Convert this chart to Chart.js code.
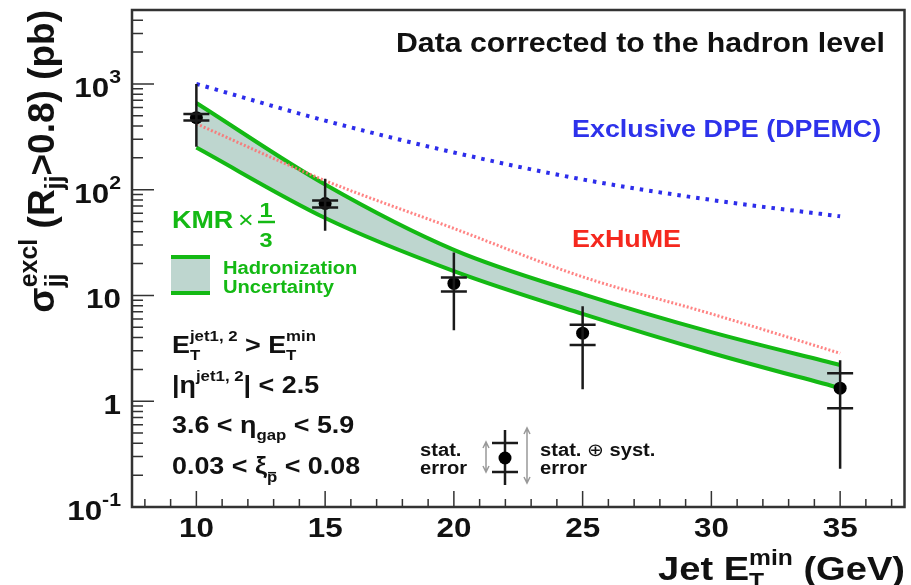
<!DOCTYPE html>
<html>
<head>
<meta charset="utf-8">
<script src="https://cdn.jsdelivr.net/npm/chart.js@4.4.0/dist/chart.umd.min.js"></script>
<style>
  html, body { margin: 0; padding: 0; background: #fff; }
</style>
</head>
<body>
<canvas id="chart" width="911" height="585"></canvas>
<script>
// x positions of the model curves (Jet E_T^min, GeV)
const curveEt = [10, 15, 20, 25, 30, 35];
// model predictions (pb)
const dpemc  = [1000, 450, 225, 125, 80, 56];
const exhume = [420, 122, 43, 15, 6.7, 2.84];
const kmrUp  = [660, 112, 27, 10.3, 4.5, 2.2];
const kmrLow = [250, 54, 17, 6.7, 2.86, 1.33];

// measured points
const dataEt    = [10, 15, 20, 25, 35];
const dataSigma = [480, 74, 13, 4.4, 1.33];
const statLow   = [450, 68, 10.9, 3.4, 0.86];
const statHigh  = [520, 79, 14.8, 5.3, 1.84];
const totLow    = [255, 41, 4.7, 1.3, 0.23];
const totHigh   = [1000, 127, 25.5, 7.9, 2.44];

// axis ticks
const xTicks = [10, 15, 20, 25, 30, 35];
const yTicks = [0.1, 1, 10, 100, 1000];
const yTickText = [['10', '-1'], ['1', ''], ['10', ''], ['10', '2'], ['10', '3']];

const FONT = '"Liberation Sans", Arial, Helvetica, sans-serif';
const SX = 1.12;   // text in the picture is a bit wide
const GREEN = 'rgb(20,185,20)';

const pts = (xs, ys) => xs.map((v, i) => ({ x: v, y: ys[i] }));

// draws text made of parts: [text, size, dy, flag]
// flag 'stack' = do not advance (sub under sup), 'bar' = overline, 'normal' = not bold
function rich(ctx, parts, x, y, align, color, rotated) {
  const fontOf = p => (p[3] === 'normal' ? '' : 'bold ') + p[1] + 'px ' + FONT;
  const meas = parts.map(p => { ctx.font = fontOf(p); return ctx.measureText(p[0]).width; });
  let total = 0, held = 0;
  parts.forEach((p, i) => {
    if (p[3] === 'stack') { held = meas[i]; return; }
    total += Math.max(held, meas[i]); held = 0;
  });
  ctx.save();
  ctx.translate(x, y);
  if (rotated) ctx.rotate(-Math.PI / 2); else ctx.scale(SX, 1);
  ctx.fillStyle = color;
  ctx.strokeStyle = color;
  ctx.textAlign = 'left';
  ctx.textBaseline = 'alphabetic';
  let cx = align === 'right' ? -total : align === 'center' ? -total / 2 : 0;
  held = 0;
  parts.forEach((p, i) => {
    ctx.font = fontOf(p);
    ctx.fillText(p[0], cx, p[2] || 0);
    if (p[3] === 'bar') {
      ctx.lineWidth = 1.5;
      ctx.beginPath();
      ctx.moveTo(cx + 1, (p[2] || 0) - p[1] * 0.62);
      ctx.lineTo(cx + meas[i] - 1, (p[2] || 0) - p[1] * 0.62);
      ctx.stroke();
    }
    if (p[3] === 'stack') { held = meas[i]; return; }
    cx += Math.max(held, meas[i]); held = 0;
  });
  ctx.restore();
}

function arrow(ctx, x, y1, y2) {
  ctx.beginPath();
  ctx.moveTo(x, y1); ctx.lineTo(x, y2);
  ctx.moveTo(x - 3, y1 + 6); ctx.lineTo(x, y1); ctx.lineTo(x + 3, y1 + 6);
  ctx.moveTo(x - 3, y2 - 6); ctx.lineTo(x, y2); ctx.lineTo(x + 3, y2 - 6);
  ctx.stroke();
}

const decorations = {
  id: 'decorations',
  afterDatasetsDraw(chart) {
    const { ctx, scales: { x, y } } = chart;
    // error bars: full line = stat+syst, caps = stat
    ctx.save();
    ctx.strokeStyle = '#1a1a1a';
    ctx.lineWidth = 2.5;
    dataEt.forEach((e, i) => {
      const px = x.getPixelForValue(e);
      ctx.beginPath();
      ctx.moveTo(px, y.getPixelForValue(totHigh[i]));
      ctx.lineTo(px, y.getPixelForValue(totLow[i]));
      [statLow[i], statHigh[i]].forEach(v => {
        const py = y.getPixelForValue(v);
        ctx.moveTo(px - 13, py);
        ctx.lineTo(px + 13, py);
      });
      ctx.stroke();
    });
    ctx.restore();
  },
  afterDraw(chart) {
    const { ctx, chartArea: a, scales: { x, y } } = chart;
    ctx.save();

    // frame
    ctx.strokeStyle = '#333';
    ctx.lineWidth = 2.5;
    ctx.strokeRect(a.left, a.top, a.right - a.left, a.bottom - a.top);

    // y ticks (inside, left)
    ctx.lineWidth = 1.5;
    ctx.beginPath();
    for (let k = -1; k <= 3; k++) {
      for (let m = 1; m <= 9; m++) {
        const v = m * Math.pow(10, k);
        if (v < 0.1 || v > 5000) continue;
        const py = y.getPixelForValue(v);
        ctx.moveTo(a.left, py);
        ctx.lineTo(a.left + (m === 1 ? 22 : 11), py);
      }
    }
    // x ticks (inside, bottom)
    for (let v = 8; v <= 37; v++) {
      const px = x.getPixelForValue(v);
      ctx.moveTo(px, a.bottom);
      ctx.lineTo(px, a.bottom - (v % 5 === 0 ? 16 : 8));
    }
    ctx.stroke();

    // tick labels
    xTicks.forEach(v => rich(ctx, [[String(v), 28, 0]], x.getPixelForValue(v), 537, 'center', '#111'));
    yTicks.forEach((v, i) => {
      const py = y.getPixelForValue(v);
      const parts = [[yTickText[i][0], 28, 0]];
      if (yTickText[i][1]) parts.push([yTickText[i][1], 19, -14]);
      rich(ctx, parts, 121, py + 13, 'right', '#111');
    });

    // axis titles
    rich(ctx, [['Jet E', 34, 0], ['T', 22, 8, 'stack'], ['min', 22, -15], [' (GeV)', 34, 0]],
      905, 580, 'right', '#111');
    rich(ctx, [['\u03c3', 37, 0], ['jj', 25, 9, 'stack'], ['excl', 25, -17], [' (R', 37, 0],
      ['jj', 25, 9], ['>0.8) (pb)', 37, 0]], 54, 10, 'right', '#111', true);

    // labels on the plot
    rich(ctx, [['Data corrected to the hadron level', 27, 0]], 885, 52, 'right', '#111');
    rich(ctx, [['Exclusive DPE (DPEMC)', 24, 0]], 572, 137, 'left', 'rgb(45,50,235)');
    rich(ctx, [['ExHuME', 24, 0]], 572, 247, 'left', 'rgb(245,40,30)');

    // KMR x 1/3
    rich(ctx, [['KMR', 24, 0]], 172, 228, 'left', GREEN);
    rich(ctx, [['\u00d7', 24, 0, 'normal']], 238, 228, 'left', GREEN);
    rich(ctx, [['1', 21, 0]], 266, 217, 'center', GREEN);
    rich(ctx, [['3', 21, 0]], 266, 247, 'center', GREEN);
    ctx.strokeStyle = GREEN;
    ctx.lineWidth = 2.5;
    ctx.beginPath();
    ctx.moveTo(258, 222); ctx.lineTo(275, 222);
    ctx.stroke();

    // band legend
    ctx.fillStyle = 'rgb(190,214,207)';
    ctx.fillRect(171, 257, 39, 36);
    ctx.lineWidth = 4;
    ctx.beginPath();
    ctx.moveTo(171, 257); ctx.lineTo(210, 257);
    ctx.moveTo(171, 293); ctx.lineTo(210, 293);
    ctx.stroke();
    rich(ctx, [['Hadronization', 18, 0]], 223, 274, 'left', GREEN);
    rich(ctx, [['Uncertainty', 18, 0]], 223, 293, 'left', GREEN);

    // cuts
    rich(ctx, [['E', 24, 0], ['T', 15, 7, 'stack'], ['jet1, 2', 15, -12], [' > E', 24, 0],
      ['T', 15, 7, 'stack'], ['min', 15, -12]], 172, 353, 'left', '#111');
    rich(ctx, [['|\u03b7', 24, 0], ['jet1, 2', 15, -12], ['| < 2.5', 24, 0]], 172, 393, 'left', '#111');
    rich(ctx, [['3.6 < \u03b7', 24, 0], ['gap', 15, 7], [' < 5.9', 24, 0]], 172, 433, 'left', '#111');
    rich(ctx, [['0.03 < \u03be', 24, 0], ['p', 15, 8, 'bar'], [' < 0.08', 24, 0]], 172, 474, 'left', '#111');

    // error legend
    rich(ctx, [['stat.', 18, 0]], 420, 456, 'left', '#111');
    rich(ctx, [['error', 18, 0]], 420, 474, 'left', '#111');
    rich(ctx, [['stat. ', 18, 0], ['\u2295', 18, 0, 'normal'], [' syst.', 18, 0]], 540, 456, 'left', '#111');
    rich(ctx, [['error', 18, 0]], 540, 474, 'left', '#111');
    ctx.strokeStyle = '#999';
    ctx.lineWidth = 1.5;
    arrow(ctx, 486, 442, 472);
    arrow(ctx, 527, 428, 483);
    ctx.strokeStyle = '#1a1a1a';
    ctx.lineWidth = 2.5;
    ctx.beginPath();
    ctx.moveTo(505, 430); ctx.lineTo(505, 485);
    ctx.moveTo(492, 443); ctx.lineTo(518, 443);
    ctx.moveTo(492, 472); ctx.lineTo(518, 472);
    ctx.stroke();
    ctx.fillStyle = '#000';
    ctx.beginPath();
    ctx.arc(505, 458, 6.5, 0, Math.PI * 2);
    ctx.fill();

    ctx.restore();
  }
};

new Chart(document.getElementById('chart'), {
  type: 'line',
  data: {
    datasets: [{
      label: 'KMR x 1/3 (low)',
      data: pts(curveEt, kmrLow),
      borderColor: GREEN,
      borderWidth: 4,
      pointRadius: 0,
      cubicInterpolationMode: 'monotone',
      fill: false,
      order: 4
    }, {
      label: 'KMR x 1/3 (high)',
      data: pts(curveEt, kmrUp),
      borderColor: GREEN,
      backgroundColor: 'rgb(190,214,207)',
      borderWidth: 4,
      pointRadius: 0,
      cubicInterpolationMode: 'monotone',
      fill: '-1',
      order: 3
    }, {
      label: 'ExHuME',
      data: pts(curveEt, exhume),
      borderColor: 'rgba(255,110,110,0.85)',
      borderWidth: 3,
      borderDash: [2, 2],
      pointRadius: 0,
      cubicInterpolationMode: 'monotone',
      fill: false,
      order: 2
    }, {
      label: 'Exclusive DPE (DPEMC)',
      data: pts(curveEt, dpemc),
      borderColor: 'rgb(45,45,235)',
      borderWidth: 4,
      borderDash: [3.5, 6],
      pointRadius: 0,
      cubicInterpolationMode: 'monotone',
      fill: false,
      order: 1
    }, {
      label: 'Data',
      data: pts(dataEt, dataSigma),
      showLine: false,
      pointRadius: 6.5,
      pointBackgroundColor: '#000',
      pointBorderColor: '#000',
      pointBorderWidth: 0,
      order: 0
    }]
  },
  options: {
    responsive: false,
    animation: false,
    devicePixelRatio: 1,
    layout: { padding: { left: 132, top: 10, right: 6, bottom: 78 } },
    scales: {
      x: { type: 'linear', min: 7.5, max: 37.5, display: false },
      y: { type: 'logarithmic', min: 0.1, max: 5000, display: false }
    },
    plugins: {
      filler: { drawTime: 'beforeDatasetsDraw' },
      legend: { display: false },
      tooltip: { enabled: false }
    }
  },
  plugins: [decorations]
});
</script>
</body>
</html>
